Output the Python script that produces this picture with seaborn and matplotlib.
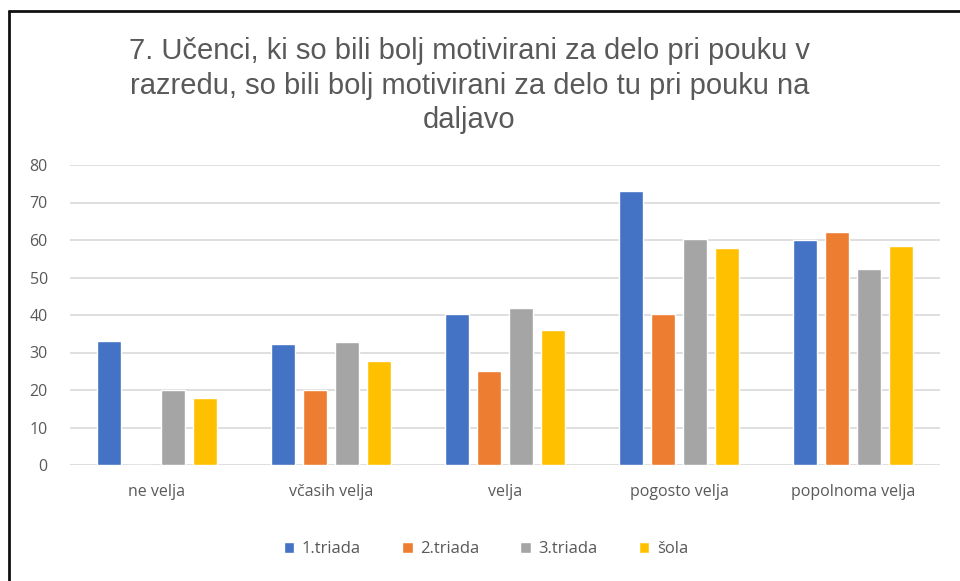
import matplotlib
matplotlib.use("Agg")
import matplotlib.pyplot as plt
import seaborn as sns
import pandas as pd
from matplotlib.lines import Line2D

categories = ["ne velja", "včasih velja", "velja", "pogosto velja", "popolnoma velja"]
series_names = ["1.triada", "2.triada", "3.triada", "šola"]
triada1 = [33.2, 32.2, 40.2, 73.2, 59.9]
triada2 = [0, 20.0, 25.2, 40.2, 62.1]
triada3 = [20.0, 32.7, 41.8, 60.4, 52.4]
sola = [17.8, 27.8, 35.9, 57.8, 58.3]
yticks = [0, 10, 20, 30, 40, 50, 60, 70, 80]
colors = ["#4472C4", "#ED7D31", "#A5A5A5", "#FFC000"]
title = "7. Učenci, ki so bili bolj motivirani za delo pri pouku v\nrazredu, so bili bolj motivirani za delo tu pri pouku na\ndaljavo"

rows = []
for name, vals in zip(series_names, [triada1, triada2, triada3, sola]):
    for c, v in zip(categories, vals):
        rows.append({"kategorija": c, "serija": name, "vrednost": v})
df = pd.DataFrame(rows)

sns.set_style("white")
plt.rcParams["font.family"] = ["Open Sans", "DejaVu Sans"]

W, H = 960, 581
fig = plt.figure(figsize=(9.6, 5.81), dpi=100)
ax = fig.add_axes([70 / W, 1 - 465 / H, 870 / W, 300 / H])

sns.barplot(data=df, x="kategorija", y="vrednost", hue="serija",
            order=categories, hue_order=series_names, palette=colors,
            width=0.736, gap=0.25, saturation=1, ax=ax, legend=True)

ax.set_ylim(0, 80)
ax.set_yticks(yticks)
ax.yaxis.grid(True, color="#D9D9D9", linewidth=1.2)
ax.set_axisbelow(True)
for s in ax.spines.values():
    s.set_visible(False)
ax.set_xlabel("")
ax.set_ylabel("")
ax.tick_params(axis="both", length=0, labelsize=11.5, labelcolor="#595959")
ax.tick_params(axis="y", pad=16)
ax.tick_params(axis="x", pad=14)

leg = ax.legend(loc="center", bbox_to_anchor=(0.478, -0.28), ncol=4,
                frameon=False, fontsize=12, handlelength=0.65, handleheight=0.65,
                columnspacing=2.45, handletextpad=0.45)
for t in leg.get_texts():
    t.set_color("#595959")

fig.text(0.489, 1 - 37 / H, title, ha="center", va="top", fontsize=21,
         color="#595959", linespacing=1.3, family=["Liberation Sans", "DejaVu Sans"])

# chart frame: only left and top edges visible
fig.add_artist(Line2D([9 / W, 9 / W], [0, 1 - 11 / H], transform=fig.transFigure,
                      color="#111111", linewidth=2))
fig.add_artist(Line2D([9 / W, 1], [1 - 11 / H, 1 - 11 / H], transform=fig.transFigure,
                      color="#111111", linewidth=2))

fig.savefig("out.png", dpi=100)
